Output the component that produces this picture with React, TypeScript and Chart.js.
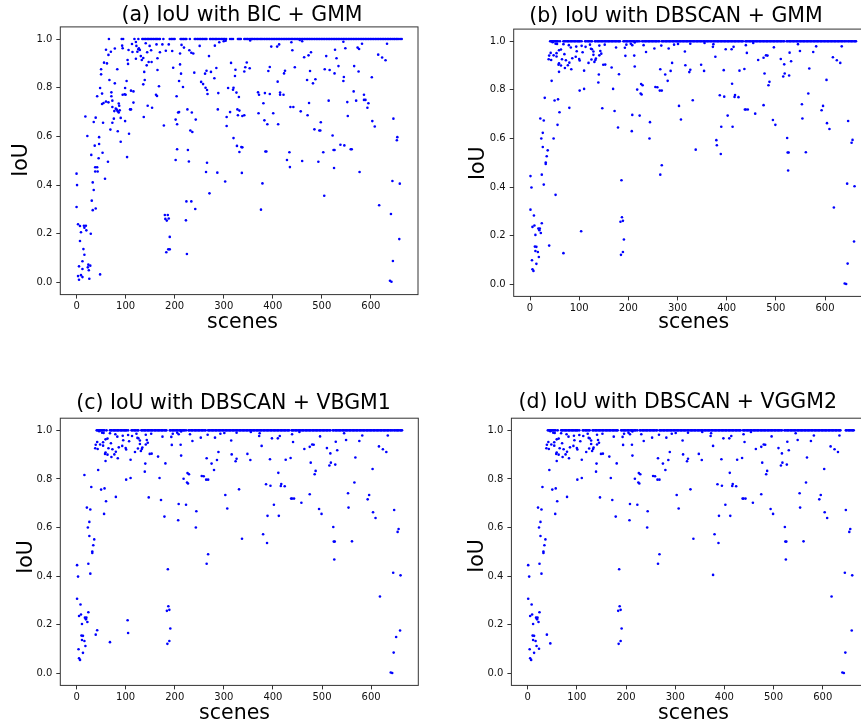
import React, { useEffect, useRef } from "react";
import { Chart, registerables } from "chart.js";

Chart.register(...registerables);

type P = [number, number];

const xTicks = [0, 100, 200, 300, 400, 500, 600];
const yTicks = [0, 0.2, 0.4, 0.6, 0.8, 1.0];

const panelTitles = [
  "(a) IoU with BIC + GMM",
  "(b) IoU with DBSCAN + GMM",
  "(c) IoU with DBSCAN + VBGM1",
  "(d) IoU with DBSCAN + VGGM2",
];
const xLabel = "scenes";
const yLabel = "IoU";

// (a) scenes whose IoU is 1.0
const bicGmmPerfect: number[] = [
  66, 92, 95, 118, 126, 134, 136, 139, 141, 144, 146, 148, 151, 153, 156, 158, 161, 163, 165, 168, 170,
  177, 190, 193, 195, 198, 200, 212, 214, 217, 219, 222, 224, 231, 241, 243, 246, 248, 251, 253, 256,
  258, 261, 263, 265, 272, 274, 277, 279, 282, 284, 286, 289, 292, 295, 297, 300, 302, 305, 313, 316,
  319, 329, 331, 333, 335, 342, 344, 347, 349, 352, 355, 357, 359, 362, 364, 367, 369, 372, 375, 377,
  379, 382, 384, 387, 389, 392, 394, 397, 399, 402, 404, 407, 409, 412, 414, 417, 419, 422, 424, 427,
  429, 432, 434, 437, 439, 441, 444, 446, 449, 451, 454, 456, 459, 461, 464, 466, 469, 471, 474, 476,
  479, 481, 484, 486, 489, 491, 494, 496, 499, 501, 504, 506, 509, 511, 514, 516, 519, 521, 524, 526,
  529, 531, 534, 536, 539, 541, 544, 546, 549, 551, 554, 556, 559, 561, 564, 566, 569, 571, 574, 576,
  579, 581, 584, 586, 589, 591, 594, 596, 599, 601, 604, 606, 609, 611, 614, 616, 619, 621, 624, 626,
  629, 631, 634, 636, 639, 641, 644, 647, 649, 652, 654, 657, 660, 663,
];

// (a) scenes whose IoU is below 1.0
const bicGmmPoints: P[] = [
  [121, 0.988], [93, 0.973], [113, 0.98], [122, 0.972], [127, 0.962], [141, 0.983], [149, 0.972],
  [163, 0.978], [175, 0.978], [188, 0.978], [214, 0.976], [219, 0.965], [230, 0.954], [238, 0.941],
  [251, 0.972], [282, 0.973], [291, 0.987], [304, 0.993], [300, 0.991], [60, 0.956], [70, 0.948],
  [78, 0.961], [94, 0.962], [106, 0.955], [114, 0.947], [126, 0.958], [129, 0.955], [124, 0.948],
  [152, 0.954], [170, 0.946], [182, 0.952], [195, 0.951], [211, 0.941], [234, 0.944], [65, 0.935],
  [131, 0.93], [121, 0.919], [133, 0.914], [136, 0.922], [144, 0.946], [165, 0.921], [104, 0.914],
  [105, 0.898], [56, 0.903], [62, 0.9], [147, 0.906], [153, 0.906], [143, 0.892], [270, 0.93],
  [315, 0.902], [211, 0.896], [197, 0.882], [50, 0.876], [83, 0.876], [165, 0.873], [265, 0.87],
  [274, 0.865], [285, 0.881], [240, 0.862], [262, 0.858], [138, 0.865], [50, 0.855], [324, 0.874],
  [323, 0.848], [281, 0.839], [213, 0.858], [67, 0.832], [102, 0.828], [139, 0.832], [78, 0.818],
  [136, 0.814], [209, 0.828], [254, 0.824], [258, 0.815], [263, 0.8], [217, 0.803], [168, 0.806],
  [48, 0.799], [99, 0.799], [111, 0.788], [116, 0.785], [71, 0.781], [52, 0.776], [98, 0.773],
  [94, 0.771], [100, 0.771], [164, 0.766], [162, 0.771], [204, 0.765], [42, 0.765], [71, 0.765],
  [266, 0.791], [267, 0.774], [289, 0.778], [309, 0.799], [320, 0.8], [319, 0.792], [326, 0.78],
  [331, 0.762], [73, 0.747], [55, 0.737], [60, 0.743], [65, 0.74], [52, 0.733], [86, 0.735],
  [87, 0.726], [116, 0.739], [145, 0.726], [154, 0.718], [73, 0.721], [80, 0.714], [82, 0.71],
  [77, 0.704], [84, 0.703], [88, 0.707], [86, 0.698], [109, 0.711], [111, 0.711], [137, 0.68],
  [76, 0.673], [90, 0.676], [99, 0.663], [18, 0.682], [39, 0.677], [35, 0.659], [54, 0.656],
  [73, 0.656], [202, 0.669], [207, 0.698], [209, 0.7], [226, 0.711], [235, 0.698], [243, 0.669],
  [178, 0.645], [205, 0.65], [288, 0.711], [313, 0.7], [306, 0.68], [306, 0.643], [328, 0.711],
  [332, 0.706], [320, 0.593], [327, 0.561], [69, 0.628], [84, 0.621], [107, 0.611], [22, 0.602],
  [46, 0.597], [232, 0.624], [236, 0.618], [90, 0.578], [37, 0.562], [46, 0.569], [53, 0.533],
  [30, 0.524], [45, 0.51], [64, 0.496], [103, 0.515], [205, 0.547], [227, 0.544], [202, 0.503],
  [229, 0.497], [266, 0.492], [38, 0.473], [42, 0.473], [38, 0.456], [43, 0.456], [264, 0.454],
  [287, 0.451], [0, 0.447], [58, 0.426], [303, 0.415], [1, 0.4], [33, 0.411], [35, 0.38],
  [271, 0.366], [31, 0.336], [224, 0.333], [234, 0.333], [0, 0.31], [33, 0.297], [39, 0.304],
  [242, 0.302], [3, 0.239], [7, 0.232], [15, 0.233], [19, 0.233], [16, 0.225], [20, 0.214],
  [9, 0.206], [29, 0.2], [7, 0.17], [14, 0.137], [16, 0.114], [12, 0.087], [5, 0.066], [12, 0.055],
  [24, 0.073], [28, 0.069], [23, 0.062], [25, 0.05], [3, 0.026], [5, 0.011], [9, 0.03], [12, 0.022],
  [26, 0.015], [48, 0.033], [180, 0.277], [186, 0.277], [181, 0.261], [188, 0.263], [184, 0.254],
  [223, 0.255], [190, 0.187], [187, 0.136], [190, 0.136], [183, 0.124], [225, 0.117], [332, 0.536],
  [354, 0.994], [397, 0.969], [409, 0.969], [413, 0.978], [438, 0.987], [440, 0.954], [460, 0.991],
  [455, 0.996], [478, 0.946], [473, 0.933], [464, 0.925], [527, 0.956], [548, 0.962], [544, 0.989],
  [573, 0.965], [576, 0.959], [582, 0.981], [633, 0.981], [615, 0.936], [623, 0.924], [630, 0.913],
  [347, 0.904], [344, 0.884], [342, 0.867], [353, 0.88], [394, 0.885], [391, 0.869], [425, 0.87],
  [423, 0.859], [445, 0.884], [410, 0.825], [476, 0.869], [470, 0.832], [487, 0.835], [482, 0.818],
  [509, 0.93], [530, 0.921], [506, 0.876], [516, 0.873], [526, 0.859], [534, 0.889], [545, 0.844],
  [544, 0.828], [566, 0.889], [575, 0.867], [602, 0.843], [329, 0.687], [338, 0.684], [342, 0.687],
  [370, 0.781], [372, 0.771], [384, 0.778], [394, 0.774], [415, 0.78], [422, 0.771], [415, 0.771],
  [381, 0.736], [371, 0.695], [401, 0.695], [383, 0.666], [389, 0.65], [411, 0.65], [436, 0.721],
  [442, 0.721], [457, 0.703], [474, 0.737], [471, 0.687], [498, 0.658], [485, 0.629], [495, 0.624],
  [497, 0.624], [514, 0.747], [522, 0.604], [538, 0.566], [546, 0.563], [524, 0.544], [526, 0.544],
  [559, 0.547], [561, 0.547], [553, 0.684], [552, 0.741], [565, 0.785], [570, 0.747], [586, 0.771],
  [589, 0.75], [586, 0.75], [593, 0.718], [595, 0.736], [603, 0.663], [608, 0.641], [646, 0.673],
  [654, 0.597], [653, 0.584], [336, 0.556], [338, 0.555], [385, 0.538], [387, 0.538], [337, 0.45],
  [434, 0.535], [429, 0.503], [435, 0.474], [460, 0.499], [493, 0.496], [503, 0.535], [525, 0.47],
  [577, 0.454], [379, 0.407], [376, 0.299], [505, 0.356], [617, 0.317], [641, 0.281], [644, 0.417],
  [659, 0.406], [658, 0.178], [645, 0.088], [639, 0.007], [642, 0.003],
];

// (b)(c)(d) scenes whose IoU is 1.0
const dbscanPerfect: number[] = [
  41, 43, 45, 47, 49, 51, 53, 55, 57, 61, 68, 70, 72, 75, 77, 79, 82, 84, 86, 89, 91, 93, 96, 98, 100,
  102, 105, 112, 114, 117, 119, 121, 124, 126, 132, 134, 137, 139, 141, 144, 146, 148, 151, 153, 155,
  158, 160, 162, 165, 167, 169, 172, 174, 176, 179, 181, 183, 190, 192, 195, 197, 199, 202, 204, 206,
  209, 211, 213, 216, 218, 220, 223, 228, 230, 233, 235, 237, 240, 242, 244, 247, 249, 251, 254, 256,
  258, 261, 263, 268, 270, 272, 275, 277, 279, 282, 284, 286, 289, 291, 293, 296, 298, 300, 303, 305,
  307, 310, 312, 314, 317, 319, 321, 324, 326, 328, 331, 333, 335, 338, 340, 342, 345, 347, 349, 352,
  354, 356, 359, 361, 363, 366, 368, 370, 373, 375, 377, 380, 382, 384, 387, 389, 391, 394, 396, 398,
  401, 403, 405, 408, 410, 412, 415, 417, 419, 422, 424, 426, 429, 431, 433, 438, 440, 442, 445, 447,
  449, 452, 454, 456, 459, 461, 463, 466, 468, 470, 473, 475, 477, 480, 482, 484, 487, 489, 491, 494,
  496, 498, 501, 503, 505, 508, 510, 512, 515, 517, 522, 524, 527, 529, 531, 534, 536, 538, 541, 543,
  545, 548, 550, 552, 555, 557, 559, 562, 564, 566, 569, 571, 573, 576, 578, 580, 583, 585, 587, 590,
  592, 594, 597, 599, 601, 604, 606, 608, 611, 613, 615, 618, 620, 622, 625, 627, 629, 632, 634, 636,
  647, 649, 652, 654, 656, 659, 661, 663,
];
// (b)(c) only: further scenes with IoU 1.0
const dbscanPerfectTail: number[] = [639, 641, 644];

// (b)(c)(d) shared scenes whose IoU is below 1.0
const dbscanCommon: P[] = [
  [46, 0.996], [52, 0.99], [55, 0.989], [68, 0.988], [79, 0.984], [83, 0.974], [94, 0.978],
  [105, 0.981], [113, 0.977], [122, 0.986], [124, 0.969], [126, 0.967], [129, 0.958], [141, 0.982],
  [152, 0.986], [175, 0.974], [193, 0.973], [196, 0.986], [205, 0.99], [208, 0.984], [213, 0.995],
  [231, 0.984], [236, 0.956], [253, 0.97], [267, 0.982], [282, 0.97], [293, 0.986], [301, 0.989],
  [315, 0.958], [326, 0.99], [59, 0.963], [63, 0.966], [54, 0.951], [42, 0.952], [39, 0.941],
  [43, 0.923], [38, 0.926], [48, 0.942], [54, 0.937], [70, 0.947], [65, 0.926], [73, 0.922],
  [59, 0.909], [58, 0.903], [63, 0.9], [77, 0.901], [71, 0.89], [59, 0.874], [80, 0.912], [86, 0.93],
  [84, 0.885], [95, 0.959], [93, 0.936], [100, 0.927], [101, 0.921], [107, 0.955], [110, 0.879],
  [119, 0.911], [125, 0.925], [129, 0.944], [131, 0.915], [133, 0.923], [134, 0.929], [141, 0.942],
  [145, 0.949], [143, 0.96], [140, 0.863], [139, 0.83], [149, 0.903], [153, 0.904], [166, 0.892],
  [169, 0.804], [181, 0.864], [179, 0.645], [147, 0.724], [172, 0.713], [194, 0.94], [212, 0.941],
  [213, 0.896], [208, 0.697], [207, 0.63], [223, 0.694], [218, 0.801], [226, 0.824], [229, 0.819],
  [225, 0.785], [227, 0.781], [244, 0.667], [243, 0.6], [255, 0.812], [259, 0.811], [264, 0.797],
  [268, 0.797], [265, 0.885], [275, 0.863], [280, 0.837], [286, 0.878], [289, 0.911], [303, 0.734],
  [307, 0.678], [316, 0.901], [324, 0.873], [326, 0.883], [331, 0.757], [265, 0.451], [268, 0.49],
  [24, 0.451], [28, 0.41], [21, 0.682], [28, 0.674], [26, 0.623], [23, 0.6], [26, 0.565], [36, 0.551],
  [34, 0.527], [32, 0.501], [32, 0.495], [30, 0.767], [50, 0.756], [57, 0.761], [56, 0.656],
  [60, 0.708], [44, 0.837], [80, 0.726], [101, 0.797], [110, 0.804], [1, 0.445], [3, 0.398],
  [1, 0.307], [8, 0.283], [5, 0.236], [9, 0.242], [24, 0.251], [17, 0.229], [20, 0.229], [19, 0.222],
  [22, 0.211], [11, 0.203], [39, 0.159], [10, 0.155], [13, 0.154], [11, 0.137], [16, 0.133],
  [18, 0.112], [13, 0.084], [4, 0.099], [5, 0.062], [7, 0.055], [186, 0.428], [187, 0.276],
  [184, 0.257], [189, 0.261], [191, 0.184], [189, 0.133], [185, 0.121], [355, 0.993], [373, 0.988],
  [372, 0.977], [398, 0.967], [410, 0.967], [414, 0.977], [439, 0.984], [441, 0.952], [454, 0.993],
  [377, 0.936], [464, 0.923], [475, 0.932], [480, 0.942], [483, 0.941], [496, 0.975], [510, 0.927],
  [517, 0.905], [528, 0.953], [531, 0.918], [545, 0.988], [549, 0.96], [576, 0.956], [582, 0.979],
  [634, 0.979], [616, 0.934], [624, 0.922], [631, 0.911], [348, 0.903], [354, 0.878], [394, 0.881],
  [426, 0.879], [436, 0.886], [411, 0.825], [477, 0.867], [487, 0.833], [485, 0.819], [518, 0.867],
  [515, 0.855], [527, 0.859], [568, 0.888], [603, 0.841], [386, 0.778], [395, 0.772], [417, 0.779],
  [416, 0.771], [424, 0.77], [566, 0.785], [596, 0.734], [593, 0.716], [553, 0.741], [554, 0.682],
  [475, 0.737], [402, 0.694], [437, 0.719], [439, 0.719], [443, 0.719], [458, 0.702], [494, 0.676],
  [499, 0.656], [389, 0.648], [412, 0.648], [604, 0.663], [609, 0.639], [647, 0.672], [523, 0.602],
  [656, 0.594], [654, 0.582], [337, 0.554], [380, 0.572], [388, 0.536], [524, 0.542], [526, 0.542],
  [561, 0.543], [525, 0.468], [645, 0.414], [660, 0.403], [618, 0.316], [659, 0.176], [646, 0.085],
  [640, 0.003], [643, 0.001],
];
const gmmExtra: P[] = [[52, 0.368], [48, 0.6], [379, 0.593], [104, 0.218], [68, 0.128]];
const vbgm1Extra: P[] = [[16, 0.816], [42, 0.177], [105, 0.166], [651, 0.149], [104, 0.218], [68, 0.128]];
const vggm2Extra: P[] = [[46, 0.123], [23, 0.101], [377, 0.405]];

function toPts(pts: P[], perfect: number[]) {
  return [
    ...perfect.map((x) => ({ x, y: 1.0 })),
    ...pts.map(([x, y]) => ({ x, y })),
  ];
}

const panelData = [
  toPts(bicGmmPoints, bicGmmPerfect),
  toPts([...dbscanCommon, ...gmmExtra], [...dbscanPerfect, ...dbscanPerfectTail]),
  toPts([...dbscanCommon, ...vbgm1Extra], [...dbscanPerfect, ...dbscanPerfectTail]),
  toPts([...dbscanCommon, ...vggm2Extra], dbscanPerfect),
];

type Layout = {
  canvas: { left: number; top: number; width: number; height: number };
  area: { l: number; t: number; r: number; b: number };
  titleX: number; titleBase: number;
  xLabX: number; xLabBase: number;
  yLabX: number; yLabY: number;
};

const layouts: Layout[] = [
  { canvas: { left: 0, top: 0, width: 430, height: 340 }, area: { l: 60.3, t: 26.9, r: 418, b: 294.6 },
    titleX: 242, titleBase: 21, xLabX: 242.5, xLabBase: 328.3, yLabX: 26.7, yLabY: 160 },
  { canvas: { left: 440, top: 0, width: 440, height: 340 }, area: { l: 513.7, t: 29.1, r: 872.3, b: 296.4 },
    titleX: 676, titleBase: 21.7, xLabX: 693.7, xLabBase: 328.3, yLabX: 484, yLabY: 163.3 },
  { canvas: { left: 0, top: 360, width: 430, height: 367 }, area: { l: 60.3, t: 418.2, r: 418.3, b: 685.4 },
    titleX: 233.5, titleBase: 409, xLabX: 234.5, xLabBase: 719.3, yLabX: 32.3, yLabY: 557 },
  { canvas: { left: 440, top: 360, width: 440, height: 367 }, area: { l: 511.4, t: 418.2, r: 870, b: 685.4 },
    titleX: 677.7, titleBase: 408.3, xLabX: 693.5, xLabBase: 719.3, yLabX: 482.7, yLabY: 556 },
];

const FONT = "'DejaVu Sans', 'Liberation Sans', sans-serif";
const X_AXIS_H = 20;

function Panel({ idx }: { idx: number }) {
  const ref = useRef<HTMLCanvasElement>(null);
  const L = layouts[idx];
  useEffect(() => {
    if (!ref.current) return;
    const c = L.canvas;
    const a = L.area;
    const yW = a.l - c.left;
    const decor = {
      id: "decor" + idx,
      afterDraw(chart: any) {
        const ctx = chart.ctx as CanvasRenderingContext2D;
        const ca = chart.chartArea;
        ctx.save();
        ctx.strokeStyle = "#333333";
        ctx.lineWidth = 1;
        ctx.strokeRect(ca.left, ca.top, ca.right - ca.left, ca.bottom - ca.top);
        ctx.fillStyle = "#000000";
        ctx.font = `20.5px ${FONT}`;
        ctx.textAlign = "center";
        ctx.textBaseline = "alphabetic";
        ctx.fillText(panelTitles[idx], L.titleX - c.left, L.titleBase - c.top);
        ctx.fillText(xLabel, L.xLabX - c.left, L.xLabBase - c.top);
        ctx.translate(L.yLabX - c.left, L.yLabY - c.top);
        ctx.rotate(-Math.PI / 2);
        ctx.fillText(yLabel, 0, 0);
        ctx.restore();
      },
    };
    const chart = new Chart(ref.current, {
      type: "scatter",
      data: {
        datasets: [
          {
            data: panelData[idx],
            pointRadius: 1.3,
            pointBorderWidth: 0,
            pointBackgroundColor: "#0000ff",
            backgroundColor: "#0000ff",
            borderColor: "#0000ff",
          },
        ],
      },
      options: {
        animation: false,
        responsive: false,
        devicePixelRatio: 1,
        events: [],
        layout: {
          padding: {
            left: 0,
            top: a.t - c.top,
            right: c.left + c.width - a.r,
            bottom: c.top + c.height - a.b - X_AXIS_H,
          },
        },
        plugins: {
          legend: { display: false },
          tooltip: { enabled: false },
          title: { display: false },
        },
        scales: {
          x: {
            type: "linear",
            min: -33.15,
            max: 696.15,
            afterBuildTicks: (s: any) => {
              s.ticks = xTicks.map((v) => ({ value: v }));
            },
            afterFit: (s: any) => {
              s.height = X_AXIS_H;
            },
            ticks: {
              font: { family: FONT, size: 10 },
              color: "#111111",
              padding: 2,
              maxRotation: 0,
              autoSkip: false,
              callback: (v: any) => String(v),
            },
            grid: { display: true, drawOnChartArea: false, drawTicks: true, tickLength: 4, color: "#333333", lineWidth: 1 },
            border: { display: false },
          },
          y: {
            type: "linear",
            min: -0.05,
            max: 1.05,
            afterBuildTicks: (s: any) => {
              s.ticks = yTicks.map((v) => ({ value: v }));
            },
            afterFit: (s: any) => {
              s.width = yW;
            },
            ticks: {
              font: { family: FONT, size: 10 },
              color: "#111111",
              padding: 4,
              autoSkip: false,
              callback: (v: any) => Number(v).toFixed(1),
            },
            grid: { display: true, drawOnChartArea: false, drawTicks: true, tickLength: 4, color: "#333333", lineWidth: 1 },
            border: { display: false },
          },
        },
      },
      plugins: [decor],
    } as any);
    return () => chart.destroy();
  }, [idx]);
  return (
    <canvas
      ref={ref}
      width={L.canvas.width}
      height={L.canvas.height}
      style={{
        position: "absolute",
        left: L.canvas.left,
        top: L.canvas.top,
        width: L.canvas.width,
        height: L.canvas.height,
      }}
    />
  );
}

export default function App() {
  return (
    <div
      style={{
        position: "fixed",
        left: 0,
        top: 0,
        width: 861,
        height: 727,
        overflow: "hidden",
        background: "#ffffff",
      }}
    >
      {[0, 1, 2, 3].map((i) => (
        <Panel key={i} idx={i} />
      ))}
    </div>
  );
}
